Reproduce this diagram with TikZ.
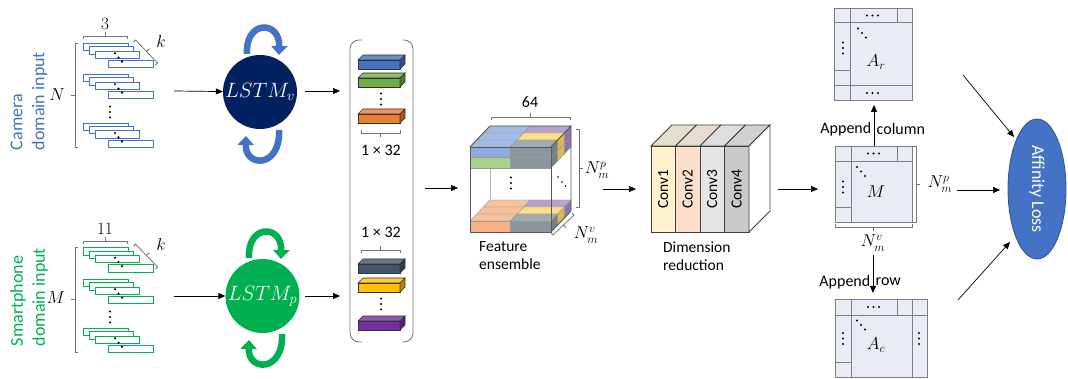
\documentclass[tikz,border=0pt]{standalone}
\usepackage[no-math]{fontspec}
\setmainfont{Carlito}
\usetikzlibrary{arrows.meta,shapes.geometric}
\definecolor{cblue}{HTML}{4472C4}
\definecolor{cgreen}{HTML}{00B050}
\definecolor{navy}{HTML}{002060}
\definecolor{fblue}{HTML}{4472C4}
\definecolor{fgreen}{HTML}{70AD47}
\definecolor{forange}{HTML}{ED7D31}
\definecolor{fslate}{HTML}{44546A}
\definecolor{fyellow}{HTML}{FFC000}
\definecolor{fpurple}{HTML}{7030A0}
\definecolor{eblue}{HTML}{8FAADC}
\definecolor{egreen}{HTML}{A9D18E}
\definecolor{eorange}{HTML}{F4B183}
\definecolor{eslate}{HTML}{8C959F}
\definecolor{eyellow}{HTML}{FFD966}
\definecolor{epurple}{HTML}{A58BC6}
\definecolor{mfill}{HTML}{E9EBF5}
\definecolor{cvA}{HTML}{FFF2CC}
\definecolor{cvB}{HTML}{FCE0CC}
\definecolor{cvC}{HTML}{E7E6E6}
\definecolor{cvD}{HTML}{C9C9C9}
\definecolor{ctA}{HTML}{E5E0CC}
\definecolor{ctB}{HTML}{E8DCD2}
\definecolor{ctC}{HTML}{DEDEDE}
\definecolor{ctD}{HTML}{D0D0D0}
\definecolor{lossedge}{HTML}{2F528F}
\tikzset{
 arr/.style={line width=0.7pt,-{Triangle[length=7pt,width=6pt]}},
 brcline/.style={draw=black!55,line width=0.8pt,line join=round},
 lbl/.style={inner sep=0pt},
 t15/.style={font=\fontsize{15.5}{18}\selectfont},
 t16/.style={font=\fontsize{16}{19}\selectfont},
 t18/.style={font=\fontsize{18}{22}\selectfont},
 mcell/.style={fill=mfill,draw=black!50,line width=0.8pt},
 mline/.style={draw=black!50,line width=0.8pt},
 inrect/.style={line width=0.9pt,fill=white},
 featedge/.style={draw=black!80,line width=0.6pt},
 ecedge/.style={draw=black!40,line width=0.4pt},
 convedge/.style={draw=black!75,line width=0.8pt},
 looparc/.style={line width=6.5pt,-{Triangle[length=9pt 0 1,width=16pt 0 1]}},
}
\newcommand\sqbr[6]{%
  \draw[brcline] ({#1-3*(#5)},{#2-3*(#6)}) -- (#1,#2) -- (#3,#4) -- ({#3-3*(#5)},{#4-3*(#6)});
  \draw[brcline] ({(#1+#3)/2},{(#2+#4)/2}) -- ({(#1+#3)/2+4*(#5)},{(#2+#4)/2+4*(#6)});
}
\newcommand\instack[2]{%
  \draw[inrect,draw=#2] (83,#1) rectangle (128,#1+7.3);
  \draw[inrect,draw=#2] (89,#1+3.4) rectangle (133.5,#1+10.7);
  \draw[inrect,draw=#2] (95,#1+7.7) rectangle (139.5,#1+15);
  \draw[inrect,draw=#2] (108.5,#1+17) rectangle (153.5,#1+24.3);
  \fill (115,#1+10) circle[radius=1.2pt] (118.5,#1+14.4) circle[radius=1.2pt] (122,#1+18.4) circle[radius=1.2pt];
}
\newcommand\featbar[2]{%
  \filldraw[featedge,fill=#2] (358,#1) rectangle (400,#1+9);
  \filldraw[featedge,fill=#2!80!white] (358,#1) -- (363,#1-5) -- (405,#1-5) -- (400,#1) -- cycle;
  \filldraw[featedge,fill=#2!70!black] (400,#1) -- (405,#1-5) -- (405,#1+4) -- (400,#1+9) -- cycle;
}
\newcommand\ecell[7]{%
  \pgfmathsetmacro\ecax{#1+(#5)*6.667}\pgfmathsetmacro\ecay{#2-(#5)*7}%
  \pgfmathsetmacro\ecbx{#1+(#6)*6.667}\pgfmathsetmacro\ecby{#2-(#6)*7}%
  \filldraw[ecedge,fill=#7] (\ecax,\ecay) rectangle ++(#3,#4);
  \filldraw[ecedge,fill=#7!80!white] (\ecax,\ecay) -- (\ecbx,\ecby) -- ++(#3,0) -- (\ecax+#3,\ecay) -- cycle;
  \filldraw[ecedge,fill=#7!85!black] (\ecax+#3,\ecay) -- (\ecbx+#3,\ecby) -- ++(0,#4) -- (\ecax+#3,\ecay+#4) -- cycle;
}
\newcommand\mydotsH[2]{\fill (#1-5.5,#2) circle[radius=1.1pt] (#1,#2) circle[radius=1.1pt] (#1+5.5,#2) circle[radius=1.1pt];}
\newcommand\mydotsV[2]{\fill (#1,#2-5.5) circle[radius=1.1pt] (#1,#2) circle[radius=1.1pt] (#1,#2+5.5) circle[radius=1.1pt];}
\newcommand\mydotsD[2]{\fill (#1-4,#2-4.5) circle[radius=1.1pt] (#1,#2) circle[radius=1.1pt] (#1+4,#2+4.5) circle[radius=1.1pt];}
\begin{document}
\begin{tikzpicture}[x=1pt,y=-1pt]
\useasboundingbox (0,0) rectangle (1068,379);
% ---------- input labels ----------
\node[t18,text=cblue,rotate=90,align=left,lbl] (camtxt) at (29,101) {Camera\\domain input};
\node[t18,text=cgreen,rotate=90,align=left,lbl] (phtxt) at (29,297) {Smartphone\\domain input};
% ---------- input stacks ----------
\instack{43.3}{cblue}
\instack{74.3}{cblue}
\instack{123}{cblue}
\mydotsV{110}{112}
\instack{247.7}{cgreen}
\instack{279.3}{cgreen}
\instack{328.3}{cgreen}
\mydotsV{110}{317}
% braces
\sqbr{75}{43}{75}{147}{-1}{0}
\sqbr{75}{247}{75}{352}{-1}{0}
\sqbr{83}{36}{127}{36}{0}{-1}
\sqbr{83}{241.5}{127}{241.5}{0}{-1}
\sqbr{135.5}{40}{157.5}{63}{0.707}{-0.707}
\sqbr{135.5}{244}{157.5}{267}{0.707}{-0.707}
\node[t18,lbl] (nN) at (57,95) {$N$};
\node[t18,lbl] (nM) at (56,298) {$M$};
\node[font=\fontsize{17}{20}\selectfont,lbl] (n3) at (105,24) {$3$};
\node[font=\fontsize{17}{20}\selectfont,lbl] (n11) at (105,229) {$11$};
\node[t18,lbl] (nk1) at (161,42) {$k$};
\node[t18,lbl] (nk2) at (161,245) {$k$};
% ---------- LSTM ----------
\node[circle,fill=navy,minimum size=74pt,inner sep=0pt,font=\fontsize{20}{24}\selectfont,text=white] (lstmv) at (260,92) {$LSTM_v$};
\node[circle,fill=cgreen,minimum size=74pt,inner sep=0pt,font=\fontsize{20}{24}\selectfont,text=white] (lstmp) at (262.5,296) {$LSTM_p$};
\draw[looparc,cblue] (247,54) .. controls (245,20) and (280,20) .. (279,55);
\draw[looparc,cblue] (279,130) .. controls (281,168) and (245,168) .. (246,136);
\draw[looparc,cgreen] (249,258) .. controls (247,224) and (282,224) .. (281,259);
\draw[looparc,cgreen] (282,334) .. controls (284,372) and (248,372) .. (249,340);
\coordinate (inC) at (174,91);
\coordinate (inP) at (174,296);
\draw[arr] (inC) -- (lstmv);
\draw[arr] (inP) -- (lstmp);
\coordinate (colC) at (340,91);
\coordinate (colP) at (340,296);
\coordinate (lvo) at (305,91);
\coordinate (lpo) at (305,296);
\draw[arr] (lvo) -- (colC);
\draw[arr] (lpo) -- (colP);
% ---------- feature column ----------
\draw[black!55,line width=0.8pt,rounded corners=9pt] (362,40) -- (350,40) -- (350,342) -- (362,342);
\draw[black!55,line width=0.8pt,rounded corners=9pt] (403,40) -- (413,40) -- (413,342) -- (403,342);
\featbar{60}{fblue}
\featbar{78}{fgreen}
\mydotsV{381}{99}
\featbar{114}{forange}
\sqbr{361}{133}{400}{133}{0}{1}
\node[t16,lbl] (d32a) at (381,150) {1 × 32};
\node[t16,lbl] (d32b) at (381,232) {1 × 32};
\sqbr{361}{250}{400}{250}{0}{-1}
\featbar{264}{fslate}
\featbar{283}{fyellow}
\mydotsV{381}{304}
\featbar{321}{fpurple}
% ---------- feature ensemble ----------
\coordinate (colOut) at (425,188);
\coordinate (cubeIn) at (458,188);
\draw[arr] (colOut) -- (cubeIn);
\draw[black!30,line width=0.7pt] (490,126) -- (490,211) -- (571,211);
\draw[black!30,line width=0.7pt] (470,232) -- (490,211);
\foreach \d/\rc in {2/epurple,1/eyellow,0/eslate}{
  \ecell{470}{221}{40.5}{11}{\d}{\d+1}{eorange}
  \ecell{510.5}{221}{40.5}{11}{\d}{\d+1}{\rc}
  \ecell{470}{157.5}{40.5}{10.5}{\d}{\d+1}{egreen}
  \ecell{510.5}{157.5}{40.5}{10.5}{\d}{\d+1}{\rc}
  \ecell{470}{147}{40.5}{10.5}{\d}{\d+1}{eblue}
  \ecell{510.5}{147}{40.5}{10.5}{\d}{\d+1}{\rc}
}
\draw[black!65,line width=0.9pt] (470,147) rectangle (551,232);
\draw[black!65,line width=0.9pt] (470,147) -- (490,126) -- (571,126) -- (551,147);
\draw[black!65,line width=0.9pt] (571,126) -- (571,211) -- (551,232);
\mydotsV{511}{183}
\fill (558,177) circle[radius=0.9pt] (562,182) circle[radius=0.9pt] (565.5,186) circle[radius=0.9pt];
\sqbr{491}{117}{570}{117}{0}{-1}
\node[t16,lbl] (n64) at (530,102) {64};
\sqbr{579}{129}{579}{207}{1}{0}
\node[font=\fontsize{17}{20}\selectfont,lbl] (cubeNp) at (597,170) {$N_m^p$};
\sqbr{574}{215}{553}{235}{0.69}{0.72}
\node[font=\fontsize{17}{20}\selectfont,lbl] (cubeNv) at (586,235) {$N_m^v$};
\node[t15,align=left,anchor=west,lbl] (fetxt) at (479,256) {Feature\\ensemble};
% ---------- conv block ----------
\coordinate (cubeOut) at (603,189);
\coordinate (convIn) at (636,189);
\draw[arr] (cubeOut) -- (convIn);
\foreach \i/\fc/\tc [count=\n] in {0/cvA/ctA,1/cvB/ctB,2/cvC/ctC,3/cvD/ctD}{
  \pgfmathsetmacro\cxa{651+24.5*\i}
  \pgfmathsetmacro\cxb{651+24.5*(\i+1)}
  \filldraw[convedge,fill=\tc] (\cxa,146) -- (\cxa+21,125) -- (\cxb+21,125) -- (\cxb,146) -- cycle;
  \filldraw[convedge,fill=\fc] (\cxa,146) rectangle (\cxb,232);
  \node[t15,rotate=90,lbl] (conv\n) at (\cxa+12.25,189) {Conv\n};
}
\filldraw[convedge,fill=white] (749,146) -- (770,125) -- (770,211) -- (749,232) -- cycle;
\node[t15,align=left,anchor=west,lbl] (drtxt) at (663,256) {Dimension\\reduction};
% ---------- matrices ----------
\coordinate (convOut) at (778,189);
\coordinate (mIn) at (818,189);
\draw[arr] (convOut) -- (mIn);
% M
\draw[mcell] (835,146) rectangle (912,222);
\draw[mline] (851,146) -- (851,222) (835,161) -- (912,161) (897,146) -- (897,161) (835,207) -- (851,207);
\mydotsH{873.5}{153.5}
\mydotsV{843}{187}
\mydotsD{861}{171.5}
\node[t18,lbl] (mM) at (876,192) {$M$};
\sqbr{916}{146}{916}{222}{1}{0}
\node[font=\fontsize{17}{20}\selectfont,lbl] (mNp) at (940,184) {$N_m^p$};
\sqbr{835}{227}{912}{227}{0}{1}
\node[font=\fontsize{17}{20}\selectfont,lbl] (mNv) at (873,243) {$N_m^v$};
% A_r
\draw[mcell] (834,8) rectangle (912,100);
\draw[mline] (850,8) -- (850,100) (834,22) -- (912,22) (897,8) -- (897,22) (834,70) -- (850,70) (834,85) -- (912,85);
\mydotsH{872.5}{15.5}
\mydotsH{872.5}{93}
\mydotsV{843}{48}
\mydotsD{862}{33}
\node[t18,lbl] (mAr) at (876,62) {$A_r$};
% A_c
\draw[mcell] (835,299) rectangle (927,377);
\draw[mline] (851,299) -- (851,377) (912,299) -- (912,377) (835,315) -- (927,315) (897,299) -- (897,315) (835,362) -- (851,362);
\mydotsH{873.5}{307}
\mydotsV{843}{338.5}
\mydotsV{919}{338.5}
\mydotsD{861}{325}
\node[t18,lbl] (mAc) at (876,345) {$A_c$};
% append arrows
\coordinate (mTop) at (874,146);
\coordinate (arBot) at (874,105);
\draw[arr,line width=0.8pt] (mTop) -- (arBot);
\node[t16,anchor=east,lbl] (apc1) at (871.5,129) {Append};
\node[t16,anchor=west,lbl] (apc2) at (876.5,129) {column};
\coordinate (mBot) at (873,255);
\coordinate (acTop) at (873,293);
\draw[arr,line width=0.8pt] (mBot) -- (acTop);
\node[t16,anchor=east,lbl] (apr1) at (870.5,282) {Append};
\node[t16,anchor=west,lbl] (apr2) at (875.5,282) {row};
% ---------- affinity loss ----------
\node[ellipse,rotate=-90,minimum width=140pt,minimum height=58pt,inner sep=0pt,fill=cblue,draw=lossedge,line width=0.8pt,text=white,t18] (loss) at (1037,189) {Affinity Loss};
\coordinate (s1) at (963,75);
\coordinate (e1) at (1014,137);
\coordinate (s2) at (957,190);
\coordinate (e2) at (1000,190);
\coordinate (s3) at (958,300);
\coordinate (e3) at (1010,242);
\draw[arr] (s1) -- (e1);
\draw[arr] (s2) -- (e2);
\draw[arr] (s3) -- (e3);
\end{tikzpicture}
\end{document}
